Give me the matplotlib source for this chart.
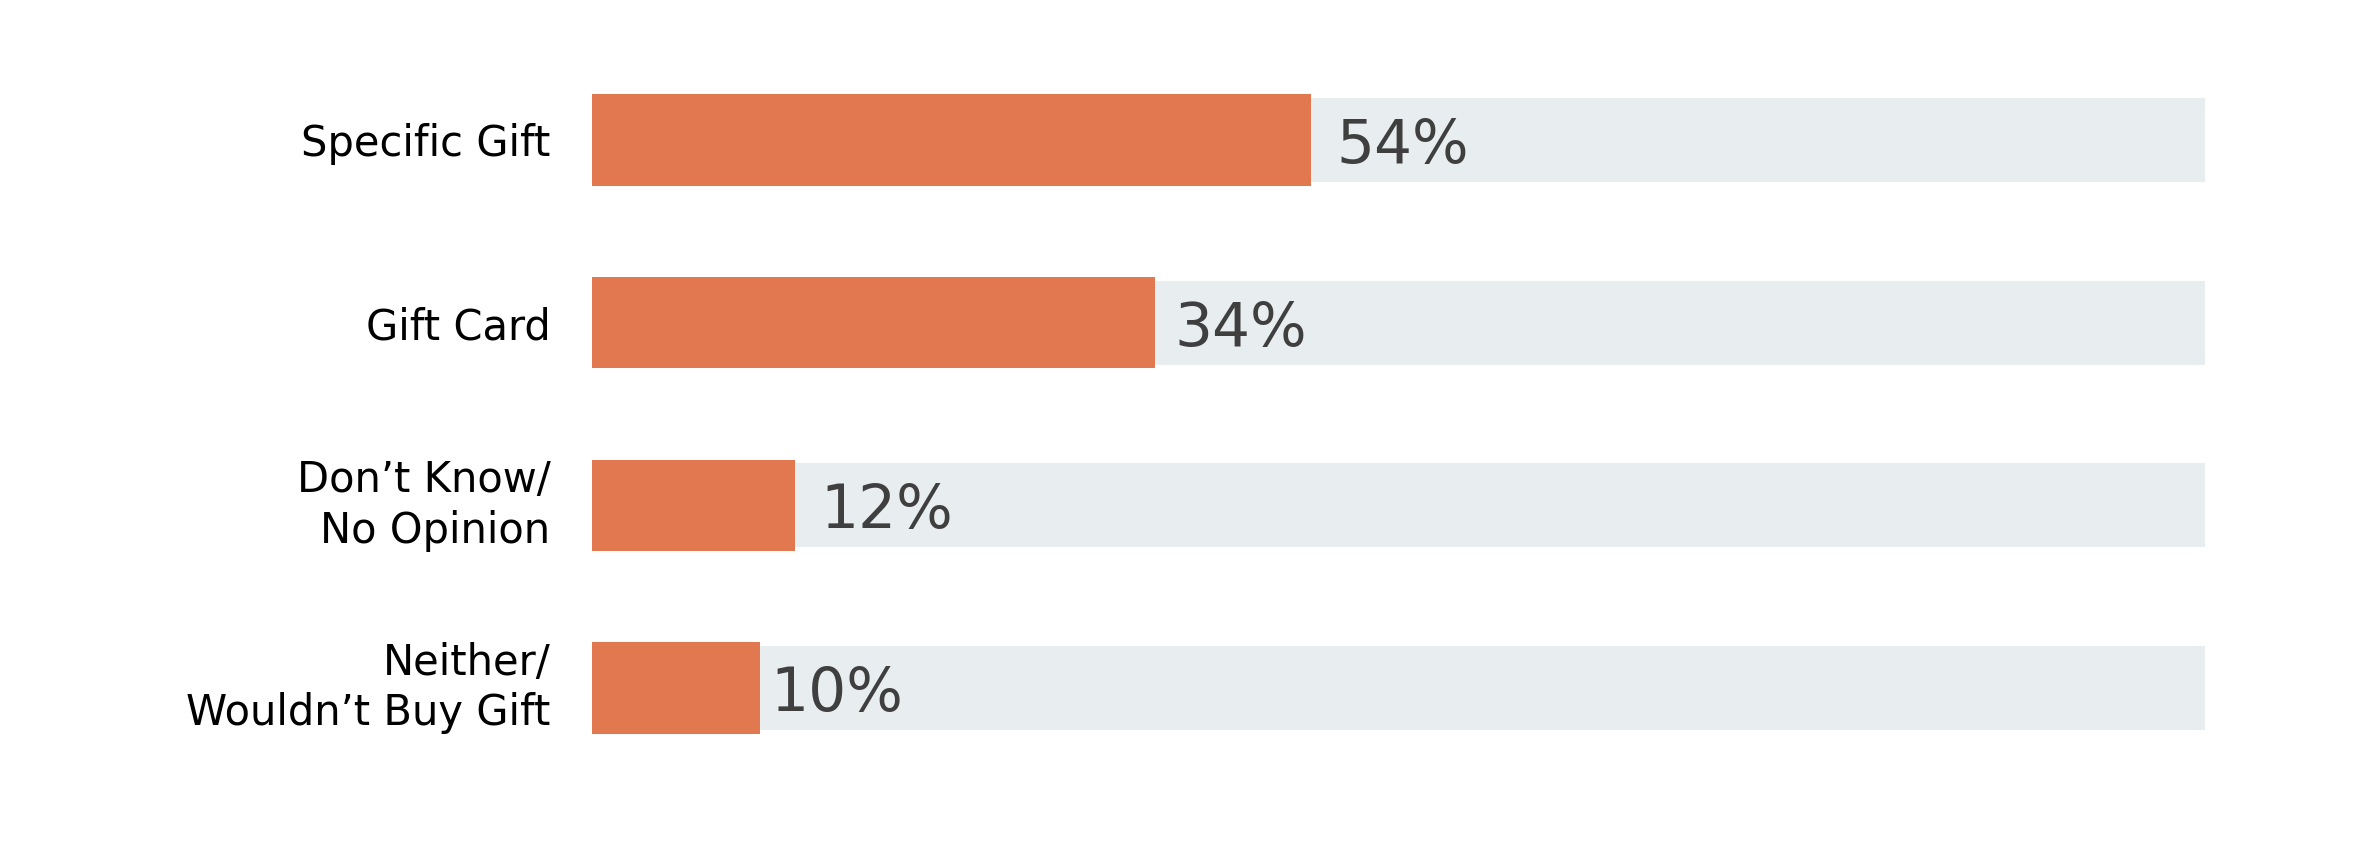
import matplotlib
matplotlib.use("Agg")
import matplotlib.pyplot as plt
import numpy as np

# ---- data ----
categories = ["Specific Gift", "Gift Card", "Don\u2019t Know/\nNo Opinion", "Neither/\nWouldn\u2019t Buy Gift"]
values = [54, 34, 12, 10]                   # printed percentages
bar_lengths = [44.6, 34.9, 12.6, 10.4]      # drawn bar lengths (percent of the grey track)
track = [100, 100, 100, 100]                # grey background track

ORANGE = "#E1784F"
TRACK = "#E8EDEF"
VALUE_COLOR = "#3F3F3F"

fig = plt.figure(figsize=(23.62, 8.44), dpi=100)
ax = fig.add_axes([592 / 2362, 0.0765, 1613 / 2362, 0.8659])

y = np.arange(len(categories))
ax.barh(y, track, height=0.46, color=TRACK, zorder=1)
ax.barh(y, bar_lengths, height=0.50, color=ORANGE, zorder=2)

ax.set_xlim(0, 100)
ax.set_ylim(len(categories) - 0.5, -0.5)

ax.set_yticks(y, categories)
ax.tick_params(axis="y", length=0, pad=30)
for lab in ax.get_yticklabels():
    lab.set_fontsize(30)
    lab.set_color("black")
    lab.set_horizontalalignment("right")
    lab.set_linespacing(1.25)
    if "\n" in lab.get_text():
        lab.set_verticalalignment("center")
ax.set_xticks([])
for s in ax.spines.values():
    s.set_visible(False)

offsets = [18, 14, 18, 8]
for yi, L, v, off in zip(y, bar_lengths, values, offsets):
    ax.annotate(f"{v}%", xy=(L, yi), xytext=(off, 0), textcoords="offset points",
                ha="left", va="center_baseline", fontsize=43, color=VALUE_COLOR, zorder=3)

fig.savefig("out.png", dpi=100, facecolor="white")
